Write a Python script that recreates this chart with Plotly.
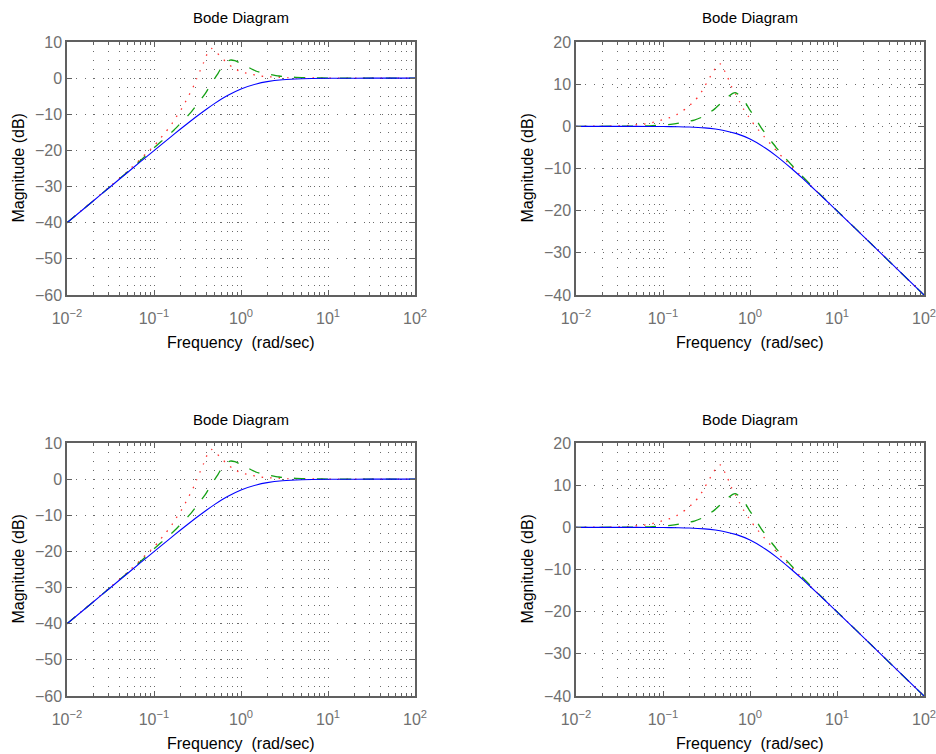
import plotly.graph_objects as go

# ---------------- data ----------------
# High-pass plots (left column)
hp_blue_f = [0.01, 0.02, 0.03, 0.05, 0.07, 0.1, 0.15, 0.2, 0.3, 0.4, 0.5, 0.7, 1, 1.5, 2, 3, 5, 10, 20, 50, 100]
hp_blue_db = [-40.0, -33.98, -30.46, -26.03, -23.1, -20.04, -16.58, -14.15, -10.83, -8.6, -6.99, -4.83, -3.01,
              -1.6, -0.97, -0.46, -0.17, -0.04, -0.01, 0.0, 0.0]

hp_green_f = [0.01, 0.02, 0.03, 0.05, 0.07, 0.1, 0.133, 0.17, 0.21, 0.264, 0.315, 0.39, 0.45, 0.545, 0.63,
              0.75, 0.85, 1.1, 1.48, 1.96, 2.73, 3.63, 5, 7, 10, 20, 100]
hp_green_db = [-40.0, -33.95, -30.4, -25.9, -22.8, -19.3, -16.65, -14.35, -12.05, -9.56, -7.16, -4.2, -1.7,
               1.34, 3.83, 5.0, 4.83, 3.55, 1.98, 1.23, 0.59, 0.32, 0.15, 0.07, 0.03, 0.0, 0.0]

hp_red_f = [0.01, 0.02, 0.03, 0.05, 0.07, 0.083, 0.1, 0.116, 0.134, 0.155, 0.176, 0.2, 0.225, 0.25, 0.28,
            0.307, 0.335, 0.372, 0.407, 0.46, 0.5, 0.57, 0.667, 0.8, 0.99, 1.24, 1.57, 1.95, 2.5, 3.5, 5,
            10, 100]
hp_red_db = [-40.0, -33.9, -30.3, -25.7, -22.4, -20.6, -18.8, -16.9, -15.1, -13.2, -11.1, -9.1, -7.0, -4.9,
             -2.65, -0.3, 1.78, 4.3, 6.6, 8.2, 7.6, 6.2, 4.55, 3.0, 1.78, 1.23, 0.68, 0.4, 0.3, 0.15, 0.07,
             0.02, 0.0]

# Low-pass plots (right column)
lp_blue_f = [0.01, 0.02, 0.05, 0.1, 0.15, 0.2, 0.3, 0.4, 0.5, 0.7, 1, 1.5, 2, 3, 4, 5, 7, 10, 20, 50, 100]
lp_blue_db = [0.0, 0.0, -0.01, -0.04, -0.1, -0.17, -0.37, -0.64, -0.97, -1.73, -3.01, -5.12, -6.99, -10.0,
              -12.3, -14.15, -17.0, -20.04, -26.03, -33.98, -40.0]

lp_green_f = [0.01, 0.03, 0.05, 0.07, 0.1, 0.122, 0.164, 0.229, 0.3, 0.396, 0.493, 0.632, 0.69, 0.824, 0.98,
              1.14, 1.36, 1.62, 1.99, 2.41, 3.01, 3.66, 5, 7, 10, 20, 50, 100]
lp_green_db = [0.0, 0.02, 0.05, 0.12, 0.3, 0.48, 0.86, 1.5, 2.45, 4.2, 6.0, 7.83, 7.95, 6.6, 4.1, 2.05,
               -0.47, -2.6, -4.97, -7.0, -9.17, -11.0, -13.9, -16.9, -20.0, -26.0, -34.0, -40.0]

lp_red_f = [0.01, 0.02, 0.03, 0.04, 0.052, 0.065, 0.083, 0.1035, 0.129, 0.16, 0.19, 0.23, 0.266, 0.3, 0.335,
            0.378, 0.428, 0.455, 0.5, 0.554, 0.61, 0.685, 0.755, 0.848, 0.966, 1.11, 1.28, 1.49, 1.74, 2.03,
            2.38, 3, 4, 5, 7, 10, 20, 50, 100]
lp_red_db = [0.0, 0.05, 0.1, 0.2, 0.4, 0.6, 1.1, 1.67, 2.3, 3.33, 4.5, 6.0, 7.6, 9.4, 11.15, 12.96, 14.7,
             14.8, 13.5, 11.6, 9.5, 7.6, 5.9, 4.0, 2.26, 0.45, -1.1, -2.7, -4.3, -5.85, -7.4, -9.4, -12.1,
             -14.0, -16.95, -20.0, -26.0, -34.0, -40.0]

x_tickvals = [0.01, 0.1, 1, 10, 100]
x_ticktext = ["10<sup>\u22122</sup>", "10<sup>\u22121</sup>", "10<sup>0</sup>", "10<sup>1</sup>", "10<sup>2</sup>"]
hp_yrange = [-60, 10]
lp_yrange = [-40, 20]
plot_title = "Bode Diagram"
x_title = "Frequency\u00a0\u00a0(rad/sec)"
y_title = "Magnitude (dB)"

# ---------------- styling ----------------
W, H = 936, 754
FONT = "Liberation Sans, Arial, Helvetica, sans-serif"
BLUE, GREEN, RED = "#0000ff", "#14a014", "#ff3333"
AXIS_COLOR = "#606060"
TICK_FONT_COLOR = "#707070"
GRID_COLOR = "#6a6a6a"
GRID_DASH = "1px,8px"
TXT = 16

# pixel boxes of the four plot areas (left, right, top, bottom)
boxes = [
    (67, 415, 42, 295),
    (576, 924, 42, 295),
    (67, 415, 443, 696),
    (576, 924, 443, 696),
]

def px_to_dom(b):
    l, r, t, bt = b
    return [l / W, r / W], [1 - bt / H, 1 - t / H]

panels = [
    (hp_blue_f, hp_blue_db, hp_green_f, hp_green_db, hp_red_f, hp_red_db, hp_yrange),
    (lp_blue_f, lp_blue_db, lp_green_f, lp_green_db, lp_red_f, lp_red_db, lp_yrange),
    (hp_blue_f, hp_blue_db, hp_green_f, hp_green_db, hp_red_f, hp_red_db, hp_yrange),
    (lp_blue_f, lp_blue_db, lp_green_f, lp_green_db, lp_red_f, lp_red_db, lp_yrange),
]

fig = go.Figure()
layout = dict(
    width=W, height=H,
    margin=dict(l=0, r=0, t=0, b=0, autoexpand=False),
    paper_bgcolor="white", plot_bgcolor="white",
    showlegend=False,
    font=dict(family=FONT, size=TXT, color="black"),
)
annotations = []

for i, (bf, bd, gf, gd, rf, rd, yr) in enumerate(panels):
    n = "" if i == 0 else str(i + 1)
    xa, ya = "x" + n, "y" + n
    # red dotted, green dash-dot, blue solid (blue on top)
    fig.add_trace(go.Scatter(x=rf, y=rd, mode="lines", xaxis=xa, yaxis=ya,
                             line=dict(color=RED, width=1.3, dash="1.5px,7px", shape="spline", smoothing=0.6)))
    fig.add_trace(go.Scatter(x=gf, y=gd, mode="lines", xaxis=xa, yaxis=ya,
                             line=dict(color=GREEN, width=1.3, dash="11px,12px", shape="spline",
                                       smoothing=0.6)))
    fig.add_trace(go.Scatter(x=bf, y=bd, mode="lines", xaxis=xa, yaxis=ya,
                             line=dict(color=BLUE, width=1.1, shape="spline", smoothing=0.6)))

    xd, yd = px_to_dom(boxes[i])
    layout["xaxis" + n] = dict(
        domain=xd, anchor=ya, type="log", range=[-2, 2], automargin=False,
        tickvals=x_tickvals, ticktext=x_ticktext, ticklabeloverflow="allow",
        ticks="inside", ticklen=5, tickcolor=AXIS_COLOR, tickwidth=1,
        showline=True, linecolor=AXIS_COLOR, linewidth=1.5, mirror="allticks",
        showgrid=True, gridcolor=GRID_COLOR, griddash=GRID_DASH, gridwidth=1,
        tickfont=dict(size=TXT, color=TICK_FONT_COLOR, family=FONT),
        ticklabelstandoff=8,
        minor=dict(dtick="D1", ticks="inside", ticklen=3, tickcolor=AXIS_COLOR,
                   showgrid=True, gridcolor=GRID_COLOR, griddash=GRID_DASH, gridwidth=1),
        zeroline=False, fixedrange=True,
    )
    layout["yaxis" + n] = dict(
        domain=yd, anchor=xa, range=yr, dtick=10, tick0=0, automargin=False,
        ticklabeloverflow="allow",
        ticks="inside", ticklen=5, tickcolor=AXIS_COLOR, tickwidth=1,
        showline=True, linecolor=AXIS_COLOR, linewidth=1.5, mirror="allticks",
        showgrid=True, gridcolor=GRID_COLOR, griddash=GRID_DASH, gridwidth=1,
        tickfont=dict(size=TXT, color=TICK_FONT_COLOR, family=FONT),
        zeroline=False, fixedrange=True,
    )

    l, r, t, b = boxes[i]
    cx = (l + r) / 2
    cy = (t + b) / 2
    annotations.append(dict(text=plot_title, x=cx / W, y=1 - (t - 24) / H, xref="paper", yref="paper",
                            xanchor="center", yanchor="middle", showarrow=False,
                            font=dict(size=TXT - 1, color="black", family=FONT)))
    annotations.append(dict(text=x_title, x=cx / W, y=1 - (b + 47) / H, xref="paper", yref="paper",
                            xanchor="center", yanchor="middle", showarrow=False,
                            font=dict(size=TXT, color="black", family=FONT)))
    annotations.append(dict(text=y_title, x=(l - 49) / W, y=1 - cy / H, xref="paper", yref="paper",
                            xanchor="center", yanchor="middle", showarrow=False, textangle=-90,
                            font=dict(size=TXT, color="black", family=FONT)))

layout["annotations"] = annotations
fig.update_layout(**layout)
fig.write_html("out.html")
